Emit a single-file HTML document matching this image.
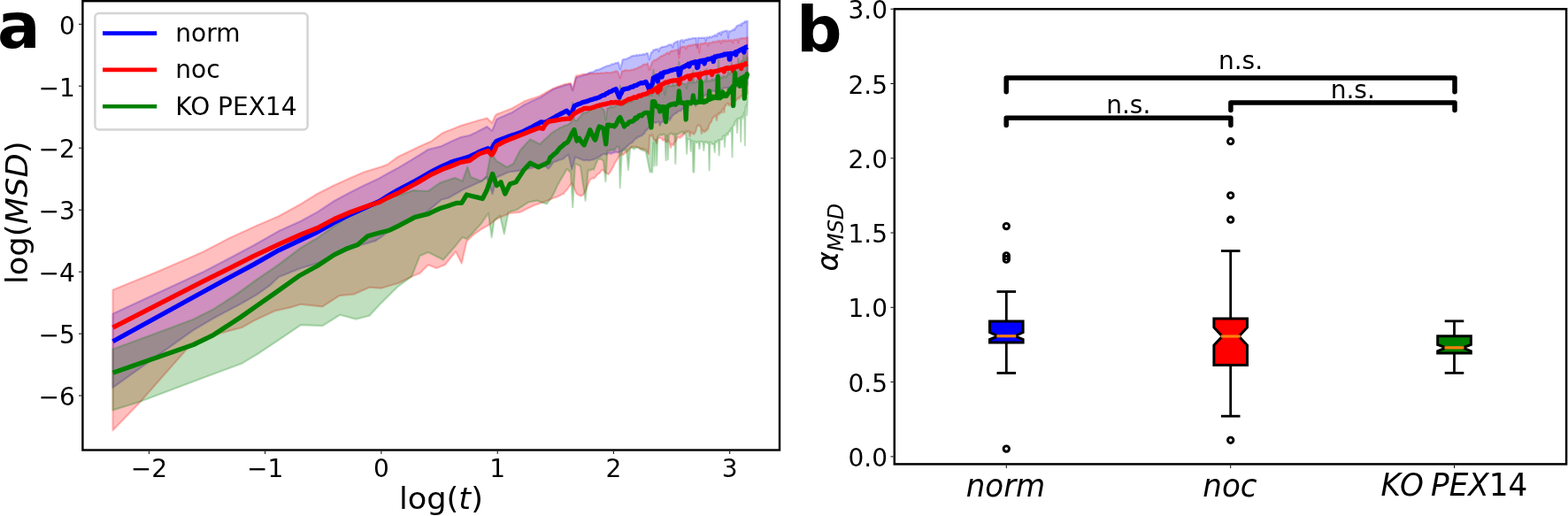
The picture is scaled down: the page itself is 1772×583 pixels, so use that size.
<!DOCTYPE html><html><head><meta charset="utf-8"><style>html,body{margin:0;padding:0;background:#fff;overflow:hidden}svg{display:block}</style></head><body><svg width="1772" height="583" viewBox="0 0 1772 583">
<rect width="100%" height="100%" fill="#fff"/>
<defs><clipPath id="ca"><rect x="93.4" y="1" width="787.6" height="507.5"/></clipPath></defs>
<g clip-path="url(#ca)" stroke-width="2.2" stroke-linejoin="round">
<polygon points="127.5,354.5 230.0,307.0 258.3,292.3 286.6,277.2 314.9,261.1 340.0,249.8 358.9,239.4 377.7,227.0 395.4,217.5 410.9,209.8 426.3,202.6 438.1,196.0 442.2,193.8 450.0,189.6 453.7,187.4 464.2,181.1 468.9,178.3 473.9,175.2 483.0,169.5 484.0,168.9 491.4,167.0 499.0,165.1 506.9,161.3 510.3,159.6 514.0,158.0 520.6,155.0 527.1,153.7 530.9,152.9 533.2,151.7 539.1,148.9 541.2,147.8 544.7,146.0 550.4,143.1 555.2,147.0 556.1,147.8 560.1,137.7 561.3,134.7 564.9,133.1 569.5,131.1 573.9,129.1 578.3,127.2 582.4,124.6 586.5,122.1 590.4,119.6 593.4,117.7 594.2,117.4 597.9,115.7 601.5,114.1 605.0,112.6 608.4,111.1 610.4,110.2 611.7,109.5 614.9,107.4 618.1,105.4 621.2,103.4 624.2,101.4 625.5,100.8 627.2,100.1 630.0,99.0 632.9,98.1 635.6,97.4 638.7,96.0 641.0,95.8 643.6,95.0 645.0,95.0 646.1,99.1 647.2,102.3 648.6,96.9 651.0,87.5 653.5,86.9 655.9,86.3 658.2,85.5 660.0,84.7 662.7,83.9 664.9,82.6 667.7,81.7 669.2,81.7 671.3,80.9 673.4,79.2 675.3,78.9 677.4,78.4 679.4,77.5 681.4,76.4 683.3,75.7 684.7,75.1 687.0,74.2 688.9,74.2 690.7,72.9 692.3,72.3 694.2,72.2 696.0,71.0 697.7,71.4 698.9,70.4 700.8,77.9 702.7,71.5 703.6,67.5 704.3,67.2 705.9,66.9 707.5,66.9 709.2,65.7 710.6,65.5 712.2,64.5 713.7,63.5 715.2,63.1 716.8,62.8 718.1,63.0 719.6,61.9 721.0,62.9 722.4,61.8 724.3,61.9 725.2,62.3 726.6,61.0 728.0,61.7 729.3,61.0 730.7,60.3 731.9,60.0 733.8,67.5 734.6,64.5 736.0,59.0 737.1,59.2 738.4,56.4 739.6,56.6 740.9,55.6 742.1,55.8 743.3,55.3 744.5,58.0 745.7,54.4 746.9,54.0 748.0,52.9 749.2,53.1 750.3,52.9 751.5,52.4 752.6,52.5 753.7,52.0 754.8,51.3 755.9,50.8 757.0,50.3 758.1,50.8 759.1,50.3 760.2,53.5 761.3,48.9 762.3,48.5 763.3,47.6 764.4,47.5 765.4,46.5 766.4,46.5 767.4,60.6 768.4,46.3 769.4,45.6 770.4,45.2 771.4,45.4 772.3,48.0 773.3,45.3 774.3,45.4 775.2,44.8 776.1,44.6 777.1,45.1 778.0,44.0 778.9,43.8 779.8,44.1 780.7,43.9 781.6,43.4 782.5,43.4 783.4,43.0 784.3,43.0 785.2,43.1 786.1,43.0 786.9,42.8 787.8,54.0 788.7,43.1 789.5,42.5 790.3,42.8 791.2,43.0 792.0,42.8 792.8,42.5 793.7,42.9 794.5,42.7 795.3,43.1 796.1,42.7 796.9,42.5 797.7,46.0 798.5,42.4 799.3,42.1 800.1,42.7 800.9,42.6 801.6,41.6 802.4,41.4 803.2,42.2 803.9,42.2 804.7,41.3 805.4,40.8 806.2,40.9 806.9,40.8 807.7,39.6 808.4,39.5 809.1,39.4 809.9,41.0 810.6,38.4 811.3,37.7 812.0,37.8 812.7,37.2 813.4,36.8 814.1,36.9 814.8,39.5 815.5,36.0 816.2,35.8 816.9,35.9 817.6,35.5 818.3,35.7 819.0,35.1 819.6,34.8 820.3,34.7 821.0,34.9 821.6,35.4 822.3,34.7 823.0,42.6 823.6,35.5 824.3,35.5 824.9,35.1 825.6,35.5 826.2,35.3 826.8,34.7 827.5,34.0 828.1,33.6 828.7,33.7 829.4,32.7 830.0,34.0 830.6,32.3 831.2,31.7 831.8,30.6 832.4,29.5 833.1,29.3 833.7,28.7 834.3,28.7 834.9,28.5 835.5,28.4 836.1,27.9 836.7,27.9 837.2,27.2 837.8,29.0 838.4,26.8 839.0,25.9 839.6,26.2 840.2,25.8 840.7,25.7 841.3,24.5 841.9,24.3 842.4,25.0 843.0,23.9 843.6,24.0 844.1,24.0 844.7,23.7 844.7,95.6 844.1,96.6 843.6,96.9 843.0,95.6 842.4,96.4 841.9,95.6 841.3,96.2 840.7,97.0 840.2,96.3 839.6,97.6 839.0,97.7 838.4,96.4 837.8,97.7 837.2,98.1 836.7,97.2 836.1,98.3 835.5,98.5 834.9,97.0 834.3,98.0 833.7,97.0 833.1,98.4 832.4,97.1 831.8,98.4 831.2,97.5 830.6,99.0 830.0,99.1 829.4,99.5 828.7,97.8 828.1,98.3 827.5,98.6 826.8,104.0 826.2,99.1 825.6,99.1 824.9,100.1 824.3,100.1 823.6,98.6 823.0,98.8 822.3,100.5 821.6,99.3 821.0,99.6 820.3,99.0 819.6,99.4 819.0,99.3 818.3,99.6 817.6,99.6 816.9,100.4 816.2,101.1 815.5,101.8 814.8,101.5 814.1,101.0 813.4,101.0 812.7,101.2 812.0,104.0 811.3,102.4 810.6,102.6 809.9,102.6 809.1,102.9 808.4,103.0 807.7,103.1 806.9,102.8 806.2,103.3 805.4,102.5 804.7,102.4 803.9,103.3 803.2,103.6 802.4,104.5 801.6,104.3 800.9,104.1 800.1,110.0 799.3,106.9 798.5,106.9 797.7,107.5 796.9,107.3 796.1,108.1 795.3,108.7 794.5,109.3 793.7,109.4 792.8,109.9 792.0,110.7 791.2,112.0 790.3,112.4 789.5,112.3 788.7,113.4 787.8,113.7 786.9,114.2 786.1,120.0 785.2,115.4 784.3,116.2 783.4,116.5 782.5,116.6 781.6,117.1 780.7,116.9 779.8,117.6 778.9,119.0 778.0,119.9 777.1,120.1 776.1,120.9 775.2,128.0 774.3,120.9 773.3,121.5 772.3,122.3 771.4,123.3 770.4,123.3 769.4,125.2 768.4,125.0 767.4,125.3 766.4,126.1 765.4,126.6 764.4,128.0 763.3,128.0 762.3,128.6 761.3,129.9 760.2,130.3 759.1,132.3 758.1,133.4 757.0,136.0 755.9,133.6 754.8,134.7 753.7,135.5 752.6,137.5 751.5,138.0 750.3,137.9 749.2,137.2 748.0,138.3 746.9,138.8 745.7,142.0 744.5,137.5 743.3,137.8 742.1,138.2 740.9,138.9 739.6,138.1 738.4,137.5 737.1,143.5 735.9,144.1 734.6,143.2 733.0,144.2 732.0,145.8 730.7,146.8 729.3,148.2 728.0,150.9 727.0,151.4 725.2,153.5 723.9,153.6 722.4,154.6 721.0,154.2 719.6,156.3 718.2,156.8 716.7,158.1 715.2,160.3 713.7,161.4 712.2,162.0 710.0,164.0 709.1,165.0 707.5,166.4 705.9,168.0 704.3,168.6 702.7,171.2 701.8,171.2 701.0,171.5 699.4,172.2 697.7,172.3 696.0,171.5 694.2,172.7 692.5,172.4 691.5,173.2 690.7,173.8 688.9,173.3 687.0,173.0 685.2,174.7 683.3,173.7 681.2,174.3 679.4,175.7 677.4,177.1 675.4,177.8 673.4,179.0 670.9,180.4 669.2,180.2 667.1,181.0 664.9,181.3 662.7,180.8 660.0,181.3 658.2,180.6 655.9,179.8 653.5,178.6 651.1,177.8 650.0,177.5 648.6,182.8 646.2,191.7 643.6,179.5 642.5,174.7 641.0,175.6 638.3,177.8 636.8,179.4 635.6,179.8 632.9,180.6 630.0,181.8 627.2,182.7 625.5,183.2 624.2,184.8 621.2,189.1 619.8,190.8 618.1,189.3 614.9,186.5 614.2,186.0 611.7,186.6 608.4,187.6 605.0,188.6 601.5,189.6 600.0,190.0 597.9,190.4 594.2,191.2 590.4,192.0 587.7,192.6 586.5,192.8 582.4,193.4 578.2,194.0 574.5,194.5 569.5,196.7 564.9,198.7 561.3,200.2 560.1,205.0 556.6,219.1 555.2,215.0 550.0,200.2 544.3,204.7 539.1,207.1 533.2,209.8 527.1,212.6 521.7,215.1 520.7,215.7 514.0,219.5 506.6,223.8 499.0,225.5 491.4,231.9 483.0,239.0 482.0,239.8 473.9,244.2 464.2,249.4 453.7,255.0 450.0,257.0 442.2,260.1 440.0,261.0 424.9,271.9 406.0,277.5 368.3,292.6 358.9,297.4 340.0,303.0 314.9,313.0 305.5,322.0 290.0,333.0 271.7,343.5 241.5,359.5 218.5,373.0 127.5,437.9" fill="#0000ff" fill-opacity="0.25" stroke="#0000ff" stroke-opacity="0.25"/>
<polygon points="127.5,327.5 176.6,307.4 214.3,291.3 230.0,284.2 258.3,269.6 286.6,256.4 314.9,244.2 340.0,230.5 358.9,218.7 377.7,209.2 396.6,200.8 411.7,194.2 430.6,188.5 438.1,185.7 442.2,182.7 450.0,177.0 453.7,175.2 464.2,170.2 468.9,167.9 473.9,165.6 483.0,161.5 487.7,159.4 491.4,156.6 500.0,150.3 506.9,147.6 510.3,146.2 514.0,144.7 520.6,142.1 527.1,140.1 530.9,139.0 533.2,138.3 539.1,136.5 541.2,135.9 544.7,135.0 550.4,133.4 555.2,138.1 556.1,139.0 559.5,131.0 561.3,129.1 564.9,127.7 569.5,125.9 573.9,124.2 578.3,122.5 582.4,120.2 586.5,117.9 590.4,115.7 593.4,114.0 594.2,113.7 597.9,112.5 601.5,111.3 605.0,110.2 608.4,109.0 610.4,108.3 611.7,107.5 614.9,105.7 618.1,103.8 621.2,102.1 624.2,100.5 625.5,99.8 627.2,99.2 630.0,98.1 632.9,97.0 635.6,96.0 638.7,95.1 641.0,94.7 643.6,94.1 645.0,94.0 646.1,97.2 647.2,100.8 648.6,95.3 651.0,85.7 653.5,85.2 655.9,84.8 658.2,83.9 660.0,83.8 662.7,84.1 664.9,83.8 667.1,82.8 669.2,82.9 671.3,83.2 673.4,83.0 675.3,82.6 677.4,83.0 679.4,82.3 681.4,82.7 683.3,82.4 685.2,81.8 686.0,82.0 687.0,82.0 688.9,82.3 690.7,82.0 692.5,81.4 694.2,81.3 696.0,80.3 697.9,80.8 699.4,84.2 700.8,88.3 703.0,80.0 704.3,80.4 705.9,79.6 707.5,79.1 709.1,79.5 710.6,79.6 712.2,79.4 713.7,78.8 714.9,78.9 716.7,78.1 718.1,77.6 719.6,77.4 721.0,76.5 722.4,75.7 724.3,75.1 725.2,74.6 726.6,73.2 728.0,72.5 729.3,72.9 730.7,72.7 731.9,71.3 733.8,78.9 734.6,76.9 735.9,73.0 737.0,70.0 738.4,68.9 739.6,67.7 740.9,67.9 742.1,67.2 743.3,65.9 744.5,66.0 745.7,64.3 746.9,63.6 748.0,63.0 749.2,62.9 750.3,61.7 751.5,62.0 752.6,60.4 753.7,60.0 754.8,59.3 755.9,61.0 757.0,58.5 758.1,58.1 759.1,57.4 760.2,57.6 761.3,57.2 762.3,56.7 763.3,56.8 764.4,56.5 765.4,56.1 766.4,56.2 767.4,65.3 768.4,54.5 769.4,54.0 770.4,52.8 771.4,52.7 772.3,52.6 773.3,52.5 774.3,52.7 775.2,55.5 776.1,52.2 777.1,52.1 778.0,51.8 778.9,51.2 779.8,51.8 780.7,50.8 781.6,51.3 782.5,50.7 783.4,50.4 784.3,50.4 785.2,50.1 786.1,50.0 786.9,50.5 787.8,50.4 788.7,49.8 789.5,50.0 790.3,59.6 791.2,49.5 792.0,49.8 792.8,49.0 793.7,49.6 794.5,49.3 795.3,49.2 796.1,48.3 796.9,48.3 797.7,48.2 798.5,48.5 799.3,49.1 800.1,51.5 800.9,48.8 801.6,47.9 802.4,48.5 803.2,48.5 803.9,48.3 804.7,48.2 805.4,47.2 806.2,47.1 806.9,47.7 807.7,47.5 808.4,47.5 809.1,46.9 809.9,47.2 810.6,46.2 811.3,47.0 812.0,46.8 812.7,46.1 813.4,45.8 814.1,46.3 814.8,49.0 815.5,46.0 816.2,45.6 816.9,45.8 817.6,46.5 818.3,45.5 819.0,46.5 819.6,45.7 820.3,45.6 821.0,45.4 821.6,46.4 822.3,46.3 823.0,45.5 823.6,45.2 824.3,45.8 824.9,46.1 825.6,45.0 826.2,45.7 826.8,45.9 827.5,45.3 828.1,48.5 828.7,45.5 829.4,44.8 830.0,44.7 830.6,45.1 831.2,44.8 831.8,44.7 832.4,44.4 833.1,45.0 833.7,44.1 834.3,48.3 834.9,44.7 835.5,44.0 836.1,43.5 836.7,43.5 837.2,43.3 837.8,43.2 838.4,43.1 839.0,43.3 839.6,43.2 840.2,43.2 840.7,43.3 841.3,43.3 841.9,43.2 842.4,42.7 843.0,42.9 843.6,42.7 844.1,42.1 844.7,42.6 844.7,106.4 844.1,105.0 843.6,105.3 843.0,107.0 842.4,107.0 841.9,106.9 841.3,106.3 840.7,107.4 840.2,107.7 839.6,106.9 839.0,108.5 838.4,108.9 837.8,108.7 837.2,108.3 836.7,109.0 836.1,110.6 835.5,111.4 834.9,109.9 834.3,111.7 833.7,111.8 833.1,111.5 832.4,113.2 831.8,113.8 831.2,113.9 830.6,114.8 830.0,118.0 829.4,115.9 828.7,117.3 828.1,115.9 827.5,117.6 826.8,116.9 826.2,117.5 825.6,117.6 824.9,119.1 824.3,117.7 823.6,119.0 823.0,117.6 822.3,116.9 821.6,117.0 821.0,118.1 820.3,119.5 819.6,119.2 819.0,121.2 818.3,127.0 817.6,122.5 816.9,123.2 816.2,124.4 815.5,127.3 814.8,127.4 814.1,126.9 813.4,127.4 812.7,129.3 812.0,127.7 811.3,129.1 810.6,130.0 809.9,136.0 809.1,131.0 808.4,130.5 807.7,131.1 806.9,132.1 806.2,132.6 805.4,133.5 804.7,135.4 803.9,137.3 803.2,138.8 802.4,139.3 801.6,140.8 800.9,142.9 800.1,146.0 799.3,145.5 798.5,147.6 797.7,147.0 796.9,148.8 796.1,148.5 795.3,149.2 794.5,147.5 793.7,146.7 792.8,151.0 792.0,144.0 791.2,142.0 790.3,142.5 789.5,141.2 788.7,141.9 787.8,142.5 786.9,146.1 786.1,148.7 785.2,150.1 784.3,151.8 783.4,150.5 782.5,150.8 781.6,150.0 780.7,149.2 779.8,154.0 778.9,149.0 778.0,147.9 777.1,149.5 776.1,149.2 775.2,147.8 774.3,150.1 773.3,151.6 772.3,151.9 771.4,154.0 770.4,153.1 769.4,155.3 768.4,155.8 767.4,155.5 766.4,155.0 765.4,155.7 764.4,158.5 763.3,160.2 762.3,160.5 761.3,163.9 760.2,163.9 759.1,162.9 758.1,167.0 757.0,162.1 755.9,159.7 754.8,158.8 753.7,160.5 752.6,160.2 751.5,158.2 750.3,157.7 749.2,158.8 748.0,156.7 746.9,156.2 745.7,155.7 744.5,156.2 743.3,156.6 742.1,162.0 740.9,158.4 739.6,158.5 738.4,157.0 737.1,152.1 735.9,153.9 734.2,152.8 733.0,174.0 732.0,172.8 730.6,170.2 729.3,168.9 728.0,168.8 726.6,167.7 725.2,168.8 723.9,168.1 722.2,166.6 721.0,166.2 719.6,166.2 718.1,165.7 716.7,165.8 715.0,166.0 713.7,165.9 712.2,167.6 710.6,168.8 709.1,171.2 707.5,171.9 705.9,173.2 704.3,175.0 702.7,173.8 701.0,175.7 699.7,176.3 697.7,180.1 696.0,182.3 694.2,185.6 693.5,187.6 692.5,189.2 690.7,192.6 688.9,195.5 687.3,196.9 685.2,195.5 683.3,193.9 681.2,191.8 679.4,192.8 677.4,196.0 675.4,196.8 672.9,200.0 671.3,201.4 669.2,201.6 666.8,203.1 664.9,207.2 662.7,213.2 660.0,219.0 658.2,220.7 656.5,221.6 653.5,220.1 651.9,219.1 651.1,217.9 648.6,211.7 646.2,206.8 643.6,210.2 641.0,214.1 638.3,216.7 636.8,219.1 635.6,219.3 632.9,220.8 630.0,222.2 627.2,223.2 625.5,223.8 624.2,224.3 621.2,225.7 618.1,226.8 614.9,228.2 614.2,228.5 611.7,229.3 608.4,230.5 605.0,231.5 602.8,232.3 601.5,233.0 597.9,234.7 594.2,236.6 590.4,238.5 587.7,239.8 586.5,239.9 582.4,240.3 578.2,240.6 576.4,240.8 573.9,241.9 569.5,243.8 564.9,245.8 561.3,247.4 560.1,248.3 555.2,252.2 552.8,254.0 550.0,255.5 544.3,258.7 539.1,262.4 534.9,265.3 533.2,267.0 527.4,272.8 521.7,297.4 520.7,295.4 515.1,284.2 514.0,285.6 506.9,294.2 502.8,299.2 499.4,300.6 493.4,303.0 491.4,302.2 484.0,299.2 483.0,300.2 474.5,308.7 465.1,312.5 464.2,313.0 453.7,318.2 450.0,320.0 442.2,322.3 430.6,325.7 417.4,324.7 400.4,332.3 383.4,334.2 364.5,346.4 340.0,343.8 328.1,347.4 311.1,351.1 286.6,362.5 273.4,370.0 248.9,376.6 230.0,383.2 214.3,390.8 157.7,454.9 127.5,486.3" fill="#ff0000" fill-opacity="0.25" stroke="#ff0000" stroke-opacity="0.25"/>
<polygon points="127.5,394.5 190.0,371.5 218.5,360.8 241.5,349.2 267.2,332.5 290.0,316.0 314.9,299.0 340.0,280.0 358.9,268.7 377.7,255.5 396.6,242.3 411.7,234.7 424.9,228.1 438.1,224.3 442.2,223.1 450.0,220.8 453.7,219.6 464.2,216.0 467.0,215.1 473.9,215.5 483.0,215.9 484.0,216.0 491.4,210.7 497.2,206.6 499.4,205.9 506.9,203.4 514.2,200.9 520.7,203.8 522.6,204.7 527.1,192.0 528.3,188.7 532.0,200.0 533.2,200.5 539.1,202.7 544.3,204.7 550.0,199.0 553.8,177.5 555.7,161.3 558.5,178.3 560.1,180.4 561.3,181.9 564.9,184.1 569.5,187.0 572.6,188.9 573.9,188.2 578.2,186.1 580.2,185.1 582.4,180.6 586.5,172.5 587.7,170.0 590.4,167.0 594.2,162.8 597.9,158.8 599.1,157.4 601.5,158.6 605.0,160.3 608.4,162.0 610.4,163.0 611.7,161.6 614.9,158.2 618.1,155.5 621.7,151.7 624.2,149.8 627.2,147.8 630.0,146.6 633.0,144.2 635.6,143.5 638.3,141.8 641.0,141.6 642.5,140.4 643.6,139.6 645.5,138.0 647.2,115.8 649.0,135.5 651.1,136.6 651.9,136.6 653.5,133.9 655.9,131.9 658.3,127.9 660.5,127.4 662.7,127.0 664.9,126.1 667.7,124.2 669.2,123.2 671.3,122.5 673.4,121.2 675.4,120.3 677.2,120.4 679.4,121.1 681.4,123.2 683.0,125.0 684.7,135.5 686.5,122.0 688.9,121.8 690.7,119.8 692.5,121.3 694.2,120.4 696.0,119.1 697.7,118.1 699.0,118.0 700.8,96.8 702.6,118.5 704.3,118.8 705.9,117.2 707.5,116.2 709.1,116.1 710.6,116.2 712.2,113.7 713.0,114.7 715.2,114.5 716.7,110.6 718.1,111.7 719.6,110.9 720.6,109.1 722.4,107.2 723.9,109.1 725.2,107.5 726.6,107.8 728.0,105.7 729.3,105.5 730.7,105.6 731.9,106.2 733.3,108.1 734.6,106.3 736.5,108.0 738.4,78.9 739.6,102.5 740.9,103.7 742.1,103.8 743.3,101.4 744.5,108.0 745.7,100.5 746.9,99.6 748.0,99.7 749.2,100.5 750.3,98.2 751.5,107.0 752.6,98.0 753.7,97.0 754.8,97.3 755.9,96.8 757.0,96.6 758.1,97.5 759.1,97.2 760.2,94.9 761.3,97.0 762.3,95.7 763.3,96.6 764.4,96.0 765.4,94.9 766.4,93.9 767.4,70.0 768.4,95.8 769.4,94.5 770.4,92.8 771.4,94.8 772.3,94.5 773.3,94.8 774.3,94.9 775.2,94.8 776.1,100.0 777.1,92.8 778.0,93.2 778.9,93.0 779.8,93.6 780.7,93.1 781.6,93.6 782.5,92.6 783.4,80.0 784.3,93.7 785.2,93.1 786.1,93.4 786.9,92.6 787.8,90.9 788.7,91.8 789.5,91.4 790.3,91.3 791.2,80.4 792.0,90.8 792.8,91.9 793.7,92.8 794.5,93.1 795.3,93.4 796.1,92.2 796.9,90.5 797.7,90.9 798.5,78.0 799.3,92.5 800.1,90.7 800.9,91.7 801.6,90.7 802.4,90.9 803.2,91.5 803.9,90.7 804.7,88.8 805.4,90.3 806.2,89.3 806.9,91.0 807.7,88.7 808.4,88.5 809.1,90.4 809.9,88.7 810.6,87.5 811.3,89.5 812.0,67.2 812.7,88.3 813.4,87.1 814.1,89.1 814.8,87.3 815.5,86.8 816.2,86.0 816.9,88.3 817.6,86.2 818.3,85.6 819.0,86.2 819.6,87.0 820.3,87.7 821.0,85.1 821.6,85.8 822.3,84.2 823.0,74.0 823.6,83.7 824.3,83.8 824.9,83.7 825.6,82.2 826.2,81.5 826.8,70.0 827.5,79.4 828.1,80.5 828.7,80.0 829.4,78.9 830.0,76.7 830.6,78.1 831.2,77.8 831.8,77.2 832.4,76.3 833.1,75.4 833.7,73.9 834.3,66.0 834.9,72.2 835.5,73.0 836.1,71.5 836.7,72.3 837.2,70.0 837.8,69.5 838.4,68.3 839.0,68.3 839.6,69.3 840.2,59.6 840.7,68.8 841.3,65.9 841.9,67.5 842.4,60.0 843.0,65.8 843.6,67.3 844.1,66.2 844.7,64.7 844.7,113.9 844.1,130.0 843.6,118.2 843.0,121.6 842.4,121.5 841.9,164.2 841.3,126.3 840.7,127.8 840.2,132.7 839.6,131.5 839.0,133.8 838.4,131.8 837.8,132.0 837.2,160.0 836.7,133.8 836.1,133.5 835.5,134.4 834.9,134.4 834.3,133.8 833.7,133.8 833.1,150.0 832.4,135.3 831.8,136.4 831.2,137.6 830.6,137.7 830.0,141.2 829.4,141.9 828.7,142.3 828.1,142.6 827.5,177.4 826.8,146.4 826.2,144.8 825.6,147.9 824.9,148.8 824.3,147.8 823.6,148.9 823.0,151.3 822.3,152.6 821.6,151.0 821.0,151.2 820.3,153.6 819.6,153.5 819.0,166.0 818.3,153.1 817.6,153.7 816.9,154.2 816.2,157.2 815.5,157.9 814.8,157.6 814.1,158.3 813.4,158.6 812.7,175.5 812.0,157.9 811.3,159.0 810.6,160.5 809.9,159.8 809.1,161.1 808.4,159.8 807.7,172.0 806.9,163.0 806.2,163.3 805.4,162.4 804.7,162.8 803.9,161.2 803.2,161.0 802.4,160.3 801.6,192.5 800.9,161.6 800.1,161.7 799.3,161.9 798.5,159.9 797.7,160.9 796.9,160.2 796.1,161.4 795.3,170.0 794.5,160.3 793.7,160.6 792.8,159.9 792.0,159.8 791.2,161.0 790.3,168.0 789.5,160.1 788.7,159.9 787.8,160.9 786.9,161.3 786.1,160.5 785.2,159.9 784.3,194.6 783.4,194.3 782.5,159.0 781.6,159.0 780.7,170.6 779.8,157.4 778.9,157.7 778.0,157.0 777.1,156.9 776.1,173.6 775.2,152.4 774.3,150.4 773.3,149.7 772.3,151.4 771.4,148.6 770.4,149.0 769.4,149.8 768.4,149.8 767.4,150.6 766.4,151.4 765.4,151.9 764.4,151.3 763.3,184.9 762.3,151.4 761.3,151.9 760.2,152.2 759.1,150.6 758.1,150.5 757.0,152.0 755.9,152.1 754.8,180.2 753.7,153.2 752.6,181.1 751.5,153.0 750.3,151.3 749.2,151.9 748.0,152.9 746.9,152.1 745.7,152.2 744.5,154.1 743.3,154.5 742.1,186.8 740.9,158.1 739.6,187.4 738.4,160.8 737.1,194.8 735.9,193.3 734.8,194.6 733.3,188.8 732.0,181.6 730.0,172.0 728.0,169.9 726.6,170.3 725.2,168.1 723.9,168.9 722.2,167.6 721.0,167.1 719.6,167.0 718.2,167.0 716.7,168.5 715.2,167.5 713.7,166.5 712.0,168.0 710.0,191.8 709.1,180.5 707.9,169.1 705.9,170.0 704.3,169.3 702.8,171.2 700.7,212.3 699.7,166.0 697.7,165.6 696.0,167.0 694.2,169.9 693.5,169.1 692.5,169.6 690.7,168.9 688.9,170.7 687.0,170.0 686.3,171.2 685.2,191.6 684.3,205.1 683.3,194.6 682.0,182.0 679.4,179.7 677.4,180.0 676.0,179.4 673.4,185.5 670.9,191.8 669.2,190.9 667.1,192.6 664.7,191.8 662.7,214.8 661.6,226.7 660.5,218.4 658.2,203.7 656.0,188.0 653.5,186.4 651.1,185.2 650.0,185.1 648.6,208.6 647.2,234.2 646.1,214.7 645.0,195.0 643.6,193.6 640.6,190.8 638.3,195.1 635.6,199.8 632.9,204.3 631.1,207.7 630.0,209.5 627.2,215.8 623.6,222.8 621.2,225.9 617.9,230.4 614.9,229.5 611.7,228.3 608.4,227.3 606.6,226.6 605.0,226.9 601.5,227.6 597.2,228.5 594.2,230.4 590.4,232.9 586.5,235.4 584.0,237.0 582.4,237.5 578.2,238.7 574.5,239.8 569.8,264.3 565.1,243.6 560.1,247.8 558.5,249.2 555.7,268.1 553.4,252.1 551.9,240.8 550.0,243.6 544.3,252.1 539.1,257.8 534.0,263.4 533.2,264.2 527.4,270.0 522.6,268.1 520.7,270.4 514.2,278.5 506.9,286.8 500.9,293.6 499.4,292.8 491.4,288.8 484.0,285.1 483.0,285.5 474.5,288.9 465.1,312.5 464.2,313.2 453.7,320.8 450.0,323.5 442.2,331.1 430.6,342.6 417.4,356.8 402.3,360.6 384.3,355.8 364.5,368.1 340.0,367.2 314.9,384.2 292.3,399.2 273.4,410.6 230.0,426.8 157.7,454.0 127.5,463.4" fill="#008000" fill-opacity="0.25" stroke="#008000" stroke-opacity="0.25"/>
</g>
<g clip-path="url(#ca)" fill="none" stroke-width="5.3" stroke-linejoin="round" stroke-linecap="butt">
<polyline points="127.5,385.8 230.0,329.5 258.3,314.0 286.6,298.9 314.9,282.8 340.0,271.0 358.9,262.0 377.7,251.5 396.6,242.0 417.4,232.5 428.7,227.5 438.1,221.5 442.2,219.1 450.0,214.5 453.7,212.6 464.2,207.0 468.9,204.5 473.9,201.7 483.0,196.5 487.7,193.8 491.4,192.0 500.0,187.7 506.9,184.6 510.3,183.0 514.0,181.9 520.6,180.0 527.1,178.0 530.9,176.9 533.2,175.7 539.1,172.8 541.2,171.7 544.7,170.3 550.0,168.2 551.4,167.6 554.5,170.0 558.5,163.2 560.1,160.8 561.0,159.5 564.9,158.0 569.5,156.2 570.3,155.9 573.9,154.6 578.2,153.1 580.6,152.3 582.4,151.7 586.5,150.3 590.9,148.7 594.2,147.0 597.9,145.2 601.2,143.5 605.0,141.4 608.4,139.6 611.4,137.9 615.6,138.4 618.1,137.3 620.0,136.3 621.2,135.5 624.2,133.9 627.2,132.2 629.2,130.9 630.0,130.5 632.9,129.0 635.6,127.7 638.3,126.2 640.6,125.3 643.6,128.5 645.3,130.0 646.1,127.9 649.1,119.6 651.1,118.8 653.5,117.6 655.9,117.0 658.3,115.7 660.5,115.1 662.7,114.6 664.9,113.9 667.7,112.8 669.2,112.4 671.3,111.7 673.4,111.2 675.4,110.5 677.2,110.0 679.4,108.6 681.4,107.7 683.3,107.3 685.2,105.6 686.6,105.3 688.9,103.7 690.7,103.4 692.5,102.1 694.2,101.5 696.0,100.6 697.7,104.7 699.8,110.0 701.0,107.1 702.7,104.1 703.6,101.5 704.3,100.9 705.9,100.8 707.5,100.1 709.1,100.2 711.1,99.5 712.2,98.8 713.7,98.2 715.2,98.1 716.7,96.9 718.1,96.6 719.6,96.4 720.6,95.5 722.4,94.4 723.9,93.9 725.2,93.7 726.6,93.9 728.0,93.3 730.0,92.5 732.0,96.9 733.8,101.5 734.6,99.7 735.9,96.9 737.5,94.0 738.4,88.0 739.6,87.5 740.9,86.8 742.1,85.7 743.3,92.0 744.5,84.9 745.7,84.5 746.9,83.1 748.0,87.0 749.2,82.8 750.3,81.6 751.5,81.8 752.6,81.2 753.7,81.1 754.8,81.0 755.9,80.4 757.0,79.9 758.1,79.5 759.1,79.5 760.2,79.2 761.3,78.7 762.3,78.5 763.3,78.3 764.4,77.8 765.4,77.5 766.4,77.6 767.4,85.1 768.4,84.0 769.4,77.1 770.4,76.8 771.4,75.8 772.3,75.4 773.3,75.5 774.3,74.4 775.2,74.6 776.1,73.3 777.1,73.5 778.0,72.2 778.9,75.0 779.8,72.0 780.7,71.3 781.6,71.0 782.5,71.1 783.4,71.1 784.3,70.1 785.2,70.3 786.1,69.7 786.9,69.9 787.8,76.6 788.7,76.0 789.5,69.8 790.3,69.1 791.2,69.0 792.0,68.7 792.8,69.4 793.7,68.6 794.5,68.2 795.3,68.5 796.1,72.0 796.9,68.0 797.7,67.6 798.5,67.4 799.3,67.3 800.1,66.7 800.9,67.0 801.6,66.6 802.4,66.5 803.2,66.3 803.9,66.1 804.7,65.5 805.4,65.3 806.2,69.5 806.9,64.9 807.7,64.1 808.4,64.8 809.1,63.9 809.9,63.9 810.6,63.7 811.3,63.1 812.0,63.4 812.7,63.2 813.4,63.3 814.1,62.9 814.8,62.4 815.5,62.5 816.2,62.7 816.9,62.2 817.6,62.2 818.3,61.2 819.0,61.8 819.6,61.2 820.3,61.1 821.0,61.2 821.6,60.9 822.3,60.8 823.0,60.9 823.6,60.8 824.3,67.2 824.9,67.0 825.6,60.5 826.2,60.5 826.8,60.3 827.5,60.7 828.1,60.4 828.7,60.6 829.4,60.0 830.0,59.6 830.6,59.6 831.2,58.9 831.8,62.0 832.4,58.7 833.1,58.3 833.7,58.1 834.3,58.2 834.9,57.4 835.5,57.0 836.1,56.6 836.7,56.4 837.2,56.5 837.8,56.0 838.4,55.5 839.0,55.8 839.6,54.9 840.2,54.8 840.7,59.0 841.3,55.0 841.9,54.3 842.4,53.6 843.0,53.9 843.6,53.6 844.1,53.0 844.7,53.1" stroke="#0000ff"/>
<polyline points="127.5,370.2 230.0,317.7 258.3,303.6 286.6,289.4 314.9,276.2 340.0,265.0 358.9,257.5 377.7,247.5 396.6,239.5 417.4,232.0 428.7,228.5 438.1,223.5 442.2,221.6 450.0,218.0 453.7,216.1 464.2,210.5 468.9,208.0 473.9,205.1 483.0,199.8 487.7,197.0 491.4,195.3 500.0,191.3 506.9,188.8 510.3,187.5 514.0,186.0 520.6,183.4 527.1,182.1 530.9,181.3 533.2,179.6 539.1,175.5 541.2,174.0 544.7,172.8 550.0,170.9 551.4,170.4 555.5,175.0 558.0,172.0 560.1,167.2 561.3,164.5 564.9,162.6 569.5,160.2 570.3,159.8 573.9,158.4 578.2,156.6 580.6,155.7 582.4,155.0 586.5,153.4 590.9,151.6 594.2,150.3 597.9,148.8 601.2,147.5 605.0,146.1 608.4,144.8 609.4,144.4 611.7,144.9 613.5,145.4 614.9,142.9 616.6,140.3 618.1,139.0 620.0,137.2 621.2,137.0 624.2,136.6 627.2,136.1 630.0,135.6 632.9,135.2 634.9,134.7 635.6,134.6 638.3,134.5 641.0,134.1 643.6,134.1 644.3,133.8 646.1,131.7 648.1,129.1 651.1,127.2 653.5,125.9 655.9,124.6 658.2,123.8 660.0,122.5 662.7,122.4 664.9,122.5 667.7,122.3 669.2,121.6 671.3,121.1 673.4,120.3 675.4,119.6 677.4,119.1 679.0,118.5 681.4,118.0 683.3,117.9 685.2,117.2 687.0,117.0 688.9,116.5 690.4,115.7 692.5,116.2 694.2,115.9 696.0,115.3 697.7,116.1 699.8,115.7 701.0,117.0 702.7,116.7 704.3,115.8 705.9,114.6 707.5,113.9 709.2,112.8 710.6,112.0 712.2,112.2 713.7,111.4 715.2,110.6 716.7,109.8 718.1,110.3 719.6,110.0 720.6,109.1 722.4,108.0 723.9,108.5 725.2,107.6 726.6,106.8 728.0,106.6 730.0,106.2 732.0,105.1 733.8,103.4 734.6,103.8 735.9,102.9 737.1,103.5 738.4,101.7 739.6,100.7 740.9,100.2 742.1,99.4 743.3,104.0 744.5,97.2 745.7,102.0 746.9,95.7 748.0,95.3 749.2,95.0 750.3,94.6 751.5,93.5 752.6,93.1 753.7,93.0 754.8,93.2 755.9,92.1 757.0,92.0 758.1,91.6 759.1,91.3 760.2,91.5 761.3,90.9 762.3,90.9 763.3,91.0 764.4,90.8 765.4,90.3 766.4,90.5 767.4,95.0 768.4,90.1 769.4,89.1 770.4,88.8 771.4,88.6 772.3,88.6 773.3,87.9 774.3,87.4 775.2,86.8 776.1,86.4 777.1,86.0 778.0,86.4 778.9,86.2 779.8,89.5 780.7,85.5 781.6,85.6 782.5,85.0 783.4,85.1 784.3,84.6 785.2,84.7 786.1,84.4 786.9,84.1 787.8,84.8 788.7,83.9 789.5,84.4 790.3,88.0 791.2,83.3 792.0,83.4 792.8,83.7 793.7,83.5 794.5,82.9 795.3,82.9 796.1,82.6 796.9,82.0 797.7,82.2 798.5,82.1 799.3,81.8 800.1,82.1 800.9,81.6 801.6,81.8 802.4,81.0 803.2,81.3 803.9,80.8 804.7,84.5 805.4,81.4 806.2,81.0 806.9,80.9 807.7,80.8 808.4,80.3 809.1,80.4 809.9,80.5 810.6,80.3 811.3,79.8 812.0,79.7 812.7,79.3 813.4,79.3 814.1,79.2 814.8,78.7 815.5,78.8 816.2,78.8 816.9,78.2 817.6,78.5 818.3,81.0 819.0,78.0 819.6,77.1 820.3,77.2 821.0,77.6 821.6,76.7 822.3,77.2 823.0,77.4 823.6,77.4 824.3,77.1 824.9,76.7 825.6,76.6 826.2,76.8 826.8,76.2 827.5,76.0 828.1,76.7 828.7,80.0 829.4,75.6 830.0,75.7 830.6,75.4 831.2,75.8 831.8,75.1 832.4,75.4 833.1,75.3 833.7,74.7 834.3,74.5 834.9,74.6 835.5,74.3 836.1,74.3 836.7,73.9 837.2,74.2 837.8,77.5 838.4,73.3 839.0,73.8 839.6,73.7 840.2,73.4 840.7,73.1 841.3,73.3 841.9,73.2 842.4,72.1 843.0,72.5 843.6,71.8 844.1,72.0 844.7,71.8" stroke="#ff0000"/>
<polyline points="127.5,421.3 218.5,389.5 241.5,378.3 271.7,358.5 290.0,345.7 309.5,332.0 338.8,311.2 358.9,300.2 377.7,287.9 390.9,281.3 404.2,276.6 415.5,266.8 428.7,263.0 440.0,260.2 442.2,259.1 450.0,255.3 453.7,253.4 464.2,247.9 468.9,245.4 473.9,244.1 483.0,241.9 484.0,241.6 491.4,238.2 497.2,235.5 499.4,234.8 506.9,232.4 514.0,230.1 516.0,229.4 520.7,229.3 521.7,229.3 527.4,220.0 533.2,221.5 539.1,222.9 545.3,224.5 550.0,215.3 555.2,200.5 556.6,196.4 560.1,206.3 561.3,209.6 564.9,206.7 566.0,205.8 569.5,215.5 570.8,219.1 573.9,212.7 576.4,207.7 578.2,207.2 583.0,205.8 586.5,200.4 590.4,194.4 591.5,192.6 594.2,189.6 597.9,185.6 599.1,184.2 601.5,185.4 605.0,187.1 608.5,188.9 611.7,187.2 614.9,185.8 618.1,184.2 619.8,183.2 621.7,178.1 624.2,176.0 627.2,173.3 629.2,171.9 630.0,170.5 633.0,166.8 635.6,164.8 638.3,162.3 641.0,160.9 642.0,159.6 643.6,156.7 646.1,151.4 648.9,146.5 651.1,156.0 651.9,159.2 653.5,157.2 654.5,156.2 655.9,158.6 658.2,161.7 660.2,163.8 662.7,157.3 664.9,151.9 666.8,146.8 669.2,151.9 671.3,156.3 672.5,158.1 673.4,156.1 675.4,147.8 677.2,143.0 679.4,143.7 682.0,145.0 683.3,153.6 684.7,162.8 686.6,141.1 688.9,141.2 690.7,142.3 692.5,141.7 694.2,143.0 696.0,141.1 697.7,137.6 699.4,134.0 700.8,132.6 702.7,137.2 704.3,139.9 705.5,143.0 707.5,140.8 709.1,140.3 710.6,138.3 712.2,137.3 713.0,137.4 715.2,136.9 716.7,135.6 718.1,133.0 719.6,133.9 720.6,132.6 722.4,130.3 723.9,130.2 725.2,130.7 726.6,129.1 728.1,127.9 729.3,127.3 730.7,127.4 732.0,127.3 733.0,127.5 734.6,135.6 735.9,144.0 737.5,114.7 738.4,118.4 739.6,114.7 740.9,118.2 742.1,120.6 743.3,121.0 744.5,120.0 745.7,126.0 746.9,122.0 748.0,120.7 749.2,122.1 750.3,120.8 751.5,133.0 752.6,137.7 753.7,120.6 754.8,120.3 755.9,119.0 757.0,119.1 758.1,118.0 759.1,118.0 760.2,118.2 761.3,117.1 762.3,117.4 763.3,118.1 764.4,116.6 765.4,116.9 766.4,115.9 767.4,103.0 768.4,115.6 769.4,115.5 770.4,116.5 771.4,116.0 772.3,116.3 773.3,116.4 774.3,116.3 775.2,135.0 776.1,115.7 777.1,115.7 778.0,115.9 778.9,115.8 779.8,115.8 780.7,116.8 781.6,115.3 782.5,115.0 783.4,108.0 784.3,114.7 785.2,115.9 786.1,116.1 786.9,115.5 787.8,115.9 788.7,115.1 789.5,114.9 790.3,114.8 791.2,115.3 792.0,92.0 792.8,115.0 793.7,114.8 794.5,115.3 795.3,115.7 796.1,115.3 796.9,114.1 797.7,114.6 798.5,114.4 799.3,113.6 800.1,112.2 800.9,111.9 801.6,103.0 802.4,112.3 803.2,111.4 803.9,111.4 804.7,110.7 805.4,110.8 806.2,109.4 806.9,110.7 807.7,110.5 808.4,109.2 809.1,109.5 809.9,109.6 810.6,110.6 811.3,86.5 812.0,109.1 812.7,110.5 813.4,109.6 814.1,110.6 814.8,109.2 815.5,108.6 816.2,108.8 816.9,104.0 817.6,108.5 818.3,108.5 819.0,107.4 819.6,107.4 820.3,106.7 821.0,108.4 821.6,107.1 822.3,106.2 823.0,104.9 823.6,104.6 824.3,102.3 824.9,101.5 825.6,101.4 826.2,100.1 826.8,99.8 827.5,99.4 828.1,97.7 828.7,119.4 829.4,97.4 830.0,96.8 830.6,82.3 831.2,95.4 831.8,93.3 832.4,92.9 833.1,93.1 833.7,92.5 834.3,92.1 834.9,91.2 835.5,89.9 836.1,97.4 836.7,89.1 837.2,89.5 837.8,88.2 838.4,88.7 839.0,88.0 839.6,87.5 840.2,87.8 840.7,88.1 841.3,111.2 841.9,86.1 842.4,87.6 843.0,86.2 843.6,87.3 844.1,83.7 844.7,86.0" stroke="#008000"/>
</g>
<rect x="93.4" y="1.2" width="787.6" height="507.3" fill="none" stroke="#000" stroke-width="2.4"/>
<line x1="89" y1="27.3" x2="92.2" y2="27.3" stroke="#000" stroke-width="1"/>
<text x="84.8" y="38.5" font-family="DejaVu Sans, Liberation Sans, sans-serif" font-size="28" text-anchor="end">0</text>
<line x1="89" y1="97.2" x2="92.2" y2="97.2" stroke="#000" stroke-width="1"/>
<text x="84.8" y="108.5" font-family="DejaVu Sans, Liberation Sans, sans-serif" font-size="28" text-anchor="end">−1</text>
<line x1="89" y1="167.2" x2="92.2" y2="167.2" stroke="#000" stroke-width="1"/>
<text x="84.8" y="178.4" font-family="DejaVu Sans, Liberation Sans, sans-serif" font-size="28" text-anchor="end">−2</text>
<line x1="89" y1="237.2" x2="92.2" y2="237.2" stroke="#000" stroke-width="1"/>
<text x="84.8" y="248.4" font-family="DejaVu Sans, Liberation Sans, sans-serif" font-size="28" text-anchor="end">−3</text>
<line x1="89" y1="307.1" x2="92.2" y2="307.1" stroke="#000" stroke-width="1"/>
<text x="84.8" y="318.3" font-family="DejaVu Sans, Liberation Sans, sans-serif" font-size="28" text-anchor="end">−4</text>
<line x1="89" y1="377.1" x2="92.2" y2="377.1" stroke="#000" stroke-width="1"/>
<text x="84.8" y="388.2" font-family="DejaVu Sans, Liberation Sans, sans-serif" font-size="28" text-anchor="end">−5</text>
<line x1="89" y1="447.0" x2="92.2" y2="447.0" stroke="#000" stroke-width="1"/>
<text x="84.8" y="458.2" font-family="DejaVu Sans, Liberation Sans, sans-serif" font-size="28" text-anchor="end">−6</text>
<line x1="168.4" y1="509.7" x2="168.4" y2="512.9" stroke="#000" stroke-width="1"/>
<text x="168.4" y="539.1" font-family="DejaVu Sans, Liberation Sans, sans-serif" font-size="28" text-anchor="middle">−2</text>
<line x1="299.6" y1="509.7" x2="299.6" y2="512.9" stroke="#000" stroke-width="1"/>
<text x="299.6" y="539.1" font-family="DejaVu Sans, Liberation Sans, sans-serif" font-size="28" text-anchor="middle">−1</text>
<line x1="430.9" y1="509.7" x2="430.9" y2="512.9" stroke="#000" stroke-width="1"/>
<text x="430.9" y="539.1" font-family="DejaVu Sans, Liberation Sans, sans-serif" font-size="28" text-anchor="middle">0</text>
<line x1="562.2" y1="509.7" x2="562.2" y2="512.9" stroke="#000" stroke-width="1"/>
<text x="562.2" y="539.1" font-family="DejaVu Sans, Liberation Sans, sans-serif" font-size="28" text-anchor="middle">1</text>
<line x1="693.4" y1="509.7" x2="693.4" y2="512.9" stroke="#000" stroke-width="1"/>
<text x="693.4" y="539.1" font-family="DejaVu Sans, Liberation Sans, sans-serif" font-size="28" text-anchor="middle">2</text>
<line x1="824.7" y1="509.7" x2="824.7" y2="512.9" stroke="#000" stroke-width="1"/>
<text x="824.7" y="539.1" font-family="DejaVu Sans, Liberation Sans, sans-serif" font-size="28" text-anchor="middle">3</text>
<text transform="translate(450.9,575.1) scale(1.036,1)" x="0" y="0" font-family="DejaVu Sans, Liberation Sans, sans-serif" font-size="34">log(<tspan font-style="italic">t</tspan>)</text>
<text transform="translate(31.3,321.1) rotate(-90) scale(1.04,1)" x="0" y="0" font-family="DejaVu Sans, Liberation Sans, sans-serif" font-size="34">log(<tspan font-style="italic">MSD</tspan>)</text>
<rect x="107.4" y="15" width="240.2" height="131.4" rx="4.5" ry="4.5" fill="#fff" fill-opacity="0.8" stroke="#d4d4d4" stroke-width="2.5"/>
<line x1="116" y1="37.6" x2="177.2" y2="37.6" stroke="#0000ff" stroke-width="4.6"/>
<text x="198.3" y="46.9" font-family="DejaVu Sans, Liberation Sans, sans-serif" font-size="28">norm</text>
<line x1="116" y1="78.9" x2="177.2" y2="78.9" stroke="#ff0000" stroke-width="4.6"/>
<text x="198.3" y="88.4" font-family="DejaVu Sans, Liberation Sans, sans-serif" font-size="28">noc</text>
<line x1="116" y1="120.2" x2="177.2" y2="120.2" stroke="#008000" stroke-width="4.6"/>
<text x="198.3" y="129.9" font-family="DejaVu Sans, Liberation Sans, sans-serif" font-size="28">KO PEX14</text>
<text x="-3" y="54" font-family="DejaVu Sans, Liberation Sans, sans-serif" font-size="72" font-weight="bold">a</text>
<text x="900" y="57.5" font-family="DejaVu Sans, Liberation Sans, sans-serif" font-size="72" font-weight="bold">b</text>
<rect x="1010.8" y="10.2" width="759.3" height="514.2" fill="none" stroke="#000" stroke-width="2.5"/>
<line x1="1006.5" y1="515.9" x2="1009.6" y2="515.9" stroke="#000" stroke-width="1"/>
<text x="1003" y="526.9" font-family="DejaVu Sans, Liberation Sans, sans-serif" font-size="28" text-anchor="end">0.0</text>
<line x1="1006.5" y1="431.6" x2="1009.6" y2="431.6" stroke="#000" stroke-width="1"/>
<text x="1003" y="442.6" font-family="DejaVu Sans, Liberation Sans, sans-serif" font-size="28" text-anchor="end">0.5</text>
<line x1="1006.5" y1="347.3" x2="1009.6" y2="347.3" stroke="#000" stroke-width="1"/>
<text x="1003" y="358.3" font-family="DejaVu Sans, Liberation Sans, sans-serif" font-size="28" text-anchor="end">1.0</text>
<line x1="1006.5" y1="263.0" x2="1009.6" y2="263.0" stroke="#000" stroke-width="1"/>
<text x="1003" y="274.0" font-family="DejaVu Sans, Liberation Sans, sans-serif" font-size="28" text-anchor="end">1.5</text>
<line x1="1006.5" y1="178.8" x2="1009.6" y2="178.8" stroke="#000" stroke-width="1"/>
<text x="1003" y="189.8" font-family="DejaVu Sans, Liberation Sans, sans-serif" font-size="28" text-anchor="end">2.0</text>
<line x1="1006.5" y1="94.5" x2="1009.6" y2="94.5" stroke="#000" stroke-width="1"/>
<text x="1003" y="105.5" font-family="DejaVu Sans, Liberation Sans, sans-serif" font-size="28" text-anchor="end">2.5</text>
<line x1="1006.5" y1="10.2" x2="1009.6" y2="10.2" stroke="#000" stroke-width="1"/>
<text x="1003" y="21.2" font-family="DejaVu Sans, Liberation Sans, sans-serif" font-size="28" text-anchor="end">3.0</text>
<line x1="1137.3" y1="525.7" x2="1137.3" y2="528.9" stroke="#000" stroke-width="1"/>
<line x1="1390.7" y1="525.7" x2="1390.7" y2="528.9" stroke="#000" stroke-width="1"/>
<line x1="1643.5" y1="525.7" x2="1643.5" y2="528.9" stroke="#000" stroke-width="1"/>
<text x="1136.5" y="560.8" font-family="DejaVu Sans, Liberation Sans, sans-serif" font-size="36" font-style="italic" text-anchor="middle" transform="matrix(0.945,0,0,1,62.51,0)" >norm</text>
<text x="1390.0" y="560.8" font-family="DejaVu Sans, Liberation Sans, sans-serif" font-size="36" font-style="italic" text-anchor="middle" transform="matrix(0.948,0,0,1,72.28,0)" >noc</text>
<text x="1643.3" y="560.3" font-family="DejaVu Sans, Liberation Sans, sans-serif" font-size="36" font-style="italic" text-anchor="middle" transform="matrix(0.95,0,0,1,82.17,0)" >KO <tspan dx="-2.8">PEX</tspan><tspan font-style="normal">14</tspan></text>
<text transform="translate(946.6,306.5) rotate(-90)" font-family="DejaVu Sans, Liberation Sans, sans-serif" font-size="34"><tspan font-style="italic">α</tspan><tspan font-style="italic" font-size="24" dy="6.8">MSD</tspan></text>
<line x1="1137.3" y1="363.0" x2="1137.3" y2="329.5" stroke="#000" stroke-width="2.8"/>
<line x1="1137.3" y1="387.0" x2="1137.3" y2="421.5" stroke="#000" stroke-width="2.8"/>
<line x1="1127.9" y1="329.5" x2="1146.7" y2="329.5" stroke="#000" stroke-width="2.8" stroke-linecap="square"/>
<line x1="1127.9" y1="421.5" x2="1146.7" y2="421.5" stroke="#000" stroke-width="2.8" stroke-linecap="square"/>
<polygon points="1118.5,387.0 1156.1,387.0 1156.1,383.5 1146.7,379.7 1156.1,375.5 1156.1,363.0 1118.5,363.0 1118.5,375.5 1127.9,379.7 1118.5,383.5" fill="#0000ff" stroke="#000" stroke-width="3" stroke-linejoin="miter"/>
<line x1="1127.9" y1="379.7" x2="1146.7" y2="379.7" stroke="#ff7f0e" stroke-width="3.2" stroke-linecap="square"/>
<circle cx="1137.3" cy="255.6" r="3.2" fill="none" stroke="#000" stroke-width="2.9"/>
<circle cx="1137.3" cy="288.8" r="3.2" fill="none" stroke="#000" stroke-width="2.9"/>
<circle cx="1137.3" cy="291.0" r="3.2" fill="none" stroke="#000" stroke-width="2.9"/>
<circle cx="1137.3" cy="293.2" r="3.2" fill="none" stroke="#000" stroke-width="2.9"/>
<circle cx="1137.3" cy="507.1" r="3.2" fill="none" stroke="#000" stroke-width="2.9"/>
<ellipse cx="1137.3" cy="287.4" rx="0.9" ry="0.55" fill="#fff"/>
<ellipse cx="1137.3" cy="291.5" rx="0.9" ry="0.55" fill="#fff"/>
<ellipse cx="1137.3" cy="294.4" rx="0.9" ry="0.55" fill="#fff"/>
<line x1="1390.7" y1="360.1" x2="1390.7" y2="283.5" stroke="#000" stroke-width="2.8"/>
<line x1="1390.7" y1="412.5" x2="1390.7" y2="470.2" stroke="#000" stroke-width="2.8"/>
<line x1="1381.3" y1="283.5" x2="1400.1" y2="283.5" stroke="#000" stroke-width="2.8" stroke-linecap="square"/>
<line x1="1381.3" y1="470.2" x2="1400.1" y2="470.2" stroke="#000" stroke-width="2.8" stroke-linecap="square"/>
<polygon points="1371.9,412.5 1409.5,412.5 1409.5,390.0 1400.1,380.0 1409.5,370.0 1409.5,360.1 1371.9,360.1 1371.9,370.0 1381.3,380.0 1371.9,390.0" fill="#ff0000" stroke="#000" stroke-width="3" stroke-linejoin="miter"/>
<line x1="1381.3" y1="380.0" x2="1400.1" y2="380.0" stroke="#ff7f0e" stroke-width="3.2" stroke-linecap="square"/>
<circle cx="1390.7" cy="159.7" r="3.2" fill="none" stroke="#000" stroke-width="2.9"/>
<circle cx="1390.7" cy="220.8" r="3.2" fill="none" stroke="#000" stroke-width="2.9"/>
<circle cx="1390.7" cy="248.2" r="3.2" fill="none" stroke="#000" stroke-width="2.9"/>
<circle cx="1390.7" cy="497.3" r="3.2" fill="none" stroke="#000" stroke-width="2.9"/>
<line x1="1643.5" y1="379.7" x2="1643.5" y2="362.8" stroke="#000" stroke-width="2.8"/>
<line x1="1643.5" y1="399.0" x2="1643.5" y2="421.4" stroke="#000" stroke-width="2.8"/>
<line x1="1634.1" y1="362.8" x2="1652.9" y2="362.8" stroke="#000" stroke-width="2.8" stroke-linecap="square"/>
<line x1="1634.1" y1="421.4" x2="1652.9" y2="421.4" stroke="#000" stroke-width="2.8" stroke-linecap="square"/>
<polygon points="1624.7,399.0 1662.3,399.0 1662.3,396.7 1652.9,392.8 1662.3,389.5 1662.3,379.7 1624.7,379.7 1624.7,389.5 1634.1,392.8 1624.7,396.7" fill="#008000" stroke="#000" stroke-width="3" stroke-linejoin="miter"/>
<line x1="1634.1" y1="392.8" x2="1652.9" y2="392.8" stroke="#ff7f0e" stroke-width="3.2" stroke-linecap="square"/>
<polyline points="1137.2,103.8 1137.2,88 1644,88 1644,103.8" fill="none" stroke="#000" stroke-width="5.5" stroke-linecap="round" stroke-linejoin="round"/>
<polyline points="1137.2,141.5 1137.2,133.2 1390.9,133.2 1390.9,141.5" fill="none" stroke="#000" stroke-width="5.5" stroke-linecap="round" stroke-linejoin="round"/>
<polyline points="1390.9,124.5 1390.9,116.1 1644,116.1 1644,124.5" fill="none" stroke="#000" stroke-width="5.5" stroke-linecap="round" stroke-linejoin="round"/>
<text x="1402" y="77.9" font-family="DejaVu Sans, Liberation Sans, sans-serif" font-size="28" text-anchor="middle">n.s.</text>
<text x="1275.3" y="127.8" font-family="DejaVu Sans, Liberation Sans, sans-serif" font-size="28" text-anchor="middle">n.s.</text>
<text x="1528.8" y="110.6" font-family="DejaVu Sans, Liberation Sans, sans-serif" font-size="28" text-anchor="middle">n.s.</text>
</svg></body></html>
